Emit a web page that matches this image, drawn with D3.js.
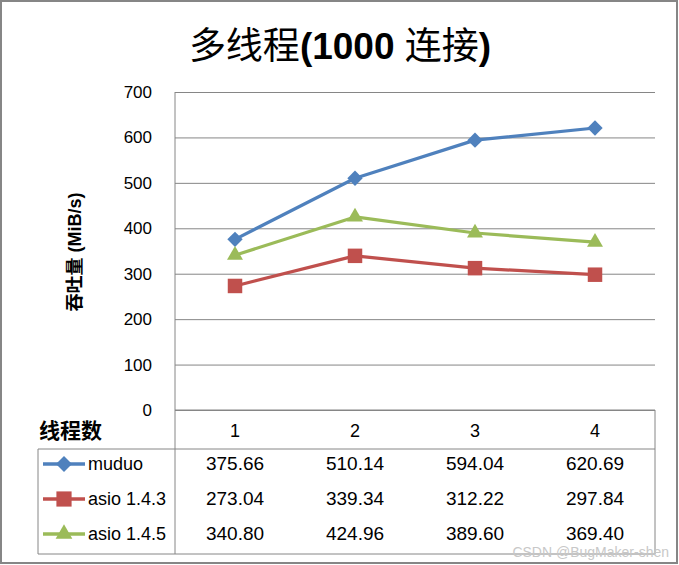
<!DOCTYPE html>
<html>
<head>
<meta charset="utf-8">
<script src="https://cdn.jsdelivr.net/npm/d3@7"></script>
<style>
  body { margin: 0; background: #fff; }
  svg text { font-family: "Liberation Sans", "Noto Sans CJK SC", sans-serif; fill: #000; }
</style>
</head>
<body>
<div id="chart"></div>
<script>
// chart data
const categories = ["1", "2", "3", "4"];
const seriesNames = ["muduo", "asio 1.4.3", "asio 1.4.5"];
const muduo = [375.66, 510.14, 594.04, 620.69];
const asio143 = [273.04, 339.34, 312.22, 297.84];
const asio145 = [340.80, 424.96, 389.60, 369.40];
const yTicks = [0, 100, 200, 300, 400, 500, 600, 700];
const colors = ["#4F81BD", "#C0504D", "#9BBB59"];
const symbols = [d3.symbolDiamond2, d3.symbolSquare, d3.symbolTriangle];
const symbolSizes = [150, 210, 110];

const series = [muduo, asio143, asio145];

const W = 679, H = 565;
const svg = d3.select("#chart").append("svg")
  .attr("width", W).attr("height", H);

// outer frame
svg.append("rect")
  .attr("x", 1).attr("y", 1).attr("width", W - 3).attr("height", H - 3)
  .attr("fill", "#fff").attr("stroke", "#868686").attr("stroke-width", 2);

// title
const title = svg.append("text")
  .attr("x", 340).attr("y", 59)
  .attr("text-anchor", "middle")
  .style("font-size", "37px");
title.append("tspan").text("多线程");
title.append("tspan").attr("font-weight", "bold").text("(1000 ");
title.append("tspan").text("连接");
title.append("tspan").attr("font-weight", "bold").text(")");

const plot = { left: 175, right: 655, top: 92, bottom: 410 };

const x = d3.scaleBand().domain(categories).range([plot.left, plot.right]);
const y = d3.scaleLinear().domain([0, 700]).range([plot.bottom, plot.top]);

// gridlines + y tick labels
svg.append("g")
  .attr("transform", `translate(${plot.left},0)`)
  .call(d3.axisLeft(y).tickValues(yTicks).tickSize(-(plot.right - plot.left)).tickFormat(d => d).tickPadding(23))
  .call(g => g.select(".domain").remove())
  .call(g => g.selectAll(".tick line").attr("stroke", "#868686"))
  .call(g => g.selectAll(".tick text").style("font-size", "17px").attr("fill", "#000"));

// y axis line
svg.append("line")
  .attr("x1", plot.left).attr("x2", plot.left)
  .attr("y1", plot.top).attr("y2", 554)
  .attr("stroke", "#868686");

// y axis title
svg.append("text")
  .attr("transform", "translate(81,252) rotate(-90)")
  .attr("text-anchor", "middle")
  .attr("font-weight", "bold")
  .style("font-size", "18px")
  .text("吞吐量 (MiB/s)");

// lines + markers
const line = d3.line()
  .x((d, i) => x(categories[i]) + x.bandwidth() / 2)
  .y(d => y(d));

series.forEach((vals, s) => {
  svg.append("path")
    .datum(vals)
    .attr("d", line)
    .attr("fill", "none")
    .attr("stroke", colors[s])
    .attr("stroke-width", 3.2)
    .attr("stroke-linejoin", "round");
  svg.selectAll(null)
    .data(vals)
    .join("path")
    .attr("transform", (d, i) => `translate(${x(categories[i]) + x.bandwidth() / 2},${y(d)})`)
    .attr("d", d3.symbol().type(symbols[s]).size(symbolSizes[s]))
    .attr("fill", colors[s]);
});

// data table
const tbl = { left: 38, headBottom: 449, bottom: 554 };
const rowH = 35;
const gridColor = "#868686";

svg.append("line").attr("x1", plot.left).attr("x2", plot.right)
  .attr("y1", plot.bottom).attr("y2", plot.bottom).attr("stroke", gridColor);
svg.append("line").attr("x1", tbl.left).attr("x2", plot.right)
  .attr("y1", tbl.headBottom).attr("y2", tbl.headBottom).attr("stroke", gridColor);
svg.append("line").attr("x1", tbl.left).attr("x2", plot.right)
  .attr("y1", tbl.bottom).attr("y2", tbl.bottom).attr("stroke", gridColor);
svg.append("line").attr("x1", tbl.left).attr("x2", tbl.left)
  .attr("y1", tbl.headBottom).attr("y2", tbl.bottom).attr("stroke", gridColor);
svg.append("line").attr("x1", plot.right).attr("x2", plot.right)
  .attr("y1", plot.bottom).attr("y2", tbl.bottom).attr("stroke", gridColor);

// header row
svg.append("text")
  .attr("x", 39).attr("y", 438)
  .attr("font-weight", "bold")
  .style("font-size", "21px")
  .text("线程数");
svg.selectAll(null)
  .data(categories)
  .join("text")
  .attr("x", d => x(d) + x.bandwidth() / 2)
  .attr("y", 437)
  .attr("text-anchor", "middle")
  .style("font-size", "18px")
  .text(d => d);

// series rows
series.forEach((vals, s) => {
  const cy = 464 + s * rowH;
  svg.append("line")
    .attr("x1", 43).attr("x2", 85).attr("y1", cy).attr("y2", cy)
    .attr("stroke", colors[s]).attr("stroke-width", 3.5);
  svg.append("path")
    .attr("transform", `translate(64,${cy})`)
    .attr("d", d3.symbol().type(symbols[s]).size(symbolSizes[s] * 1.1))
    .attr("fill", colors[s]);
  svg.append("text")
    .attr("x", 88).attr("y", cy + 6)
    .style("font-size", "18px")
    .text(seriesNames[s]);
  svg.selectAll(null)
    .data(vals)
    .join("text")
    .attr("x", (d, i) => x(categories[i]) + x.bandwidth() / 2)
    .attr("y", cy + 6)
    .attr("text-anchor", "middle")
    .style("font-size", "19px")
    .text(d => d.toFixed(2));
});

// watermark
svg.append("text")
  .attr("x", 669).attr("y", 557)
  .attr("text-anchor", "end")
  .style("font-size", "14px")
  .style("fill", "#c8c8c8")
  .text("CSDN @BugMaker-shen");
</script>
</body>
</html>
